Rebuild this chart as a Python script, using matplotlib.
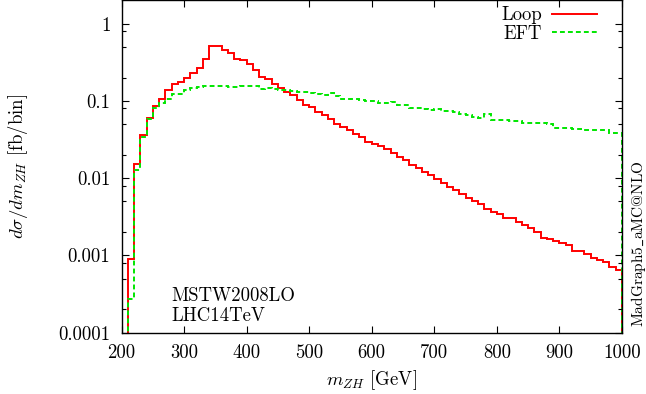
import numpy as np
import matplotlib
matplotlib.use("Agg")
import matplotlib.pyplot as plt
from matplotlib.ticker import FixedLocator, NullFormatter

plt.rcParams["font.family"] = ["cmr10", "DejaVu Serif"]
plt.rcParams["mathtext.fontset"] = "cm"
plt.rcParams["axes.unicode_minus"] = False
plt.rcParams["axes.formatter.use_mathtext"] = True

# 10 GeV bins of m_ZH from 200 to 1000 GeV
bin_edges = np.arange(200, 1001, 10)

loop_xsec = [
    0.0, 0.0009, 0.0155, 0.036, 0.060, 0.085, 0.107, 0.137, 0.164, 0.176,
    0.20, 0.23, 0.267, 0.345, 0.52, 0.52, 0.461, 0.42, 0.353, 0.335,
    0.298, 0.249, 0.204, 0.19, 0.168, 0.149, 0.131, 0.118, 0.104, 0.09,
    0.0835, 0.072, 0.065, 0.059, 0.051, 0.046, 0.0425, 0.0377, 0.0342, 0.0295,
    0.028, 0.026, 0.024, 0.021, 0.019, 0.017, 0.015, 0.0135, 0.012, 0.011,
    0.0098, 0.0088, 0.0077, 0.007, 0.0063, 0.0056, 0.0051, 0.0047, 0.0040, 0.0036,
    0.0034, 0.0031, 0.0031, 0.0027, 0.0025, 0.0023, 0.0020, 0.00169, 0.00163, 0.00154,
    0.00145, 0.00137, 0.00113, 0.00114, 0.00104, 0.00094, 0.00087, 0.00083, 0.00070, 0.00065,
]

eft_xsec = [
    0.0, 0.000273, 0.0127, 0.034, 0.058, 0.080, 0.093, 0.107, 0.122, 0.125,
    0.14, 0.149, 0.151, 0.158, 0.157, 0.155, 0.155, 0.153, 0.153, 0.155,
    0.158, 0.157, 0.145, 0.149, 0.143, 0.14, 0.137, 0.134, 0.132, 0.129,
    0.127, 0.124, 0.118, 0.127, 0.115, 0.107, 0.107, 0.107, 0.102, 0.1,
    0.1, 0.093, 0.093, 0.096, 0.09, 0.088, 0.082, 0.082, 0.079, 0.076,
    0.079, 0.074, 0.074, 0.072, 0.068, 0.065, 0.062, 0.0605, 0.067, 0.056,
    0.056, 0.0575, 0.055, 0.055, 0.052, 0.052, 0.052, 0.052, 0.051, 0.045,
    0.045, 0.045, 0.044, 0.044, 0.042, 0.042, 0.042, 0.042, 0.039, 0.039,
]

ytick_values = [0.0001, 0.001, 0.01, 0.1, 1]
ytick_labels = ["0.0001", "0.001", "0.01", "0.1", "1"]
xtick_values = list(range(200, 1001, 100))

fig = plt.figure(figsize=(6.46, 3.94), dpi=100)
ax = fig.add_axes([121.5 / 646, 1 - 332.7 / 394, (622 - 121.5) / 646, (332.7 - 0.5) / 394])

floor = 1e-9
loop = np.where(np.asarray(loop_xsec) > 0, loop_xsec, floor)
eft = np.where(np.asarray(eft_xsec) > 0, eft_xsec, floor)

ax.stairs(loop, bin_edges, baseline=floor, color="#ff0000", lw=1.4, label="Loop")
ax.stairs(eft, bin_edges, baseline=floor, color="#00e600", lw=1.4,
          linestyle=(0, (2.5, 1.6)), label="EFT")

ax.set_yscale("log")
ax.set_xlim(200, 1000)
ax.set_ylim(1e-4, 2)

ax.yaxis.set_major_locator(FixedLocator(ytick_values))
ax.set_yticklabels(ytick_labels)
minors = [m * 10.0 ** k for k in range(-4, 1) for m in (2, 5, 8)]
ax.yaxis.set_minor_locator(FixedLocator([v for v in minors if v < 2]))
ax.yaxis.set_minor_formatter(NullFormatter())
ax.xaxis.set_major_locator(FixedLocator(xtick_values))
ax.set_xticklabels([str(v) for v in xtick_values])

ax.tick_params(which="both", direction="in", top=True, right=True, labelsize=13.5,
               width=0.8, colors="black")
ax.tick_params(which="major", length=5, pad=8)
ax.tick_params(which="minor", length=3)
for sp in ax.spines.values():
    sp.set_linewidth(1.0)

ax.set_xlabel(r"$m_{ZH}$ [GeV]", fontsize=13.5, labelpad=5)
ax.set_ylabel(r"$d\sigma/dm_{ZH}$ [fb/bin]", fontsize=13.5, labelpad=20)

ax.text(0.1, 0.11, "MSTW2008LO", transform=ax.transAxes, fontsize=13.5, va="center")
ax.text(0.1, 0.05, "LHC14TeV", transform=ax.transAxes, fontsize=13.5, va="center")

fig.text(638 / 646, 1 - 244 / 394, r"$\mathrm{MadGraph5\_aMC@NLO}$", rotation=90,
         fontsize=11, ha="center", va="center")

ax.legend(loc="upper right", bbox_to_anchor=(0.962, 1.0), frameon=False,
          fontsize=13.5, markerfirst=False, handlelength=2.4, handletextpad=0.55,
          borderaxespad=0.2, labelspacing=0.05, borderpad=0.1)

fig.savefig("out.png", dpi=100)
